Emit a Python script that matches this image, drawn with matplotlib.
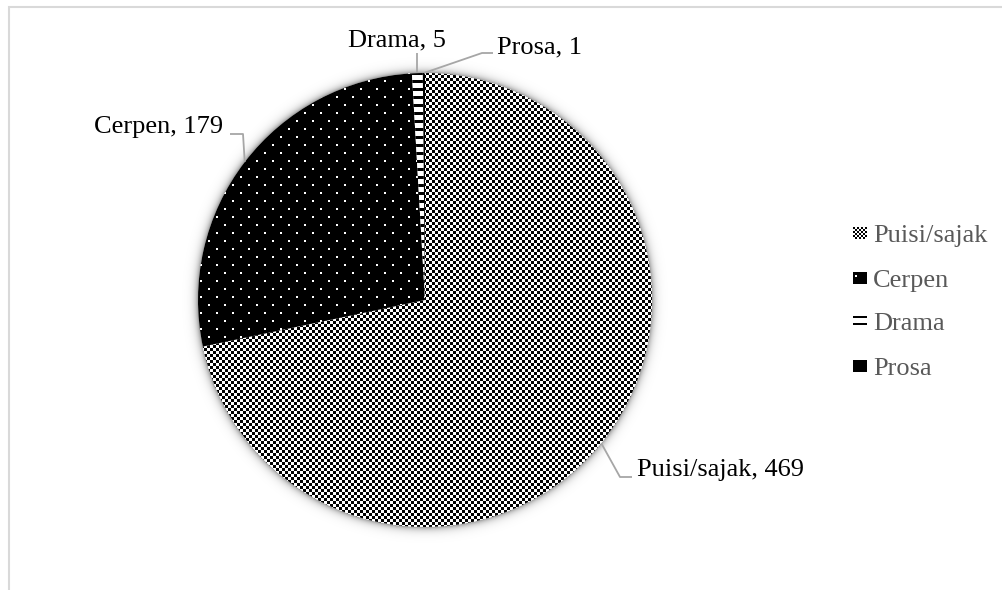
import numpy as np
import matplotlib.pyplot as plt
from matplotlib.patches import Rectangle

labels = ['Puisi/sajak', 'Cerpen', 'Drama', 'Prosa']
values = [469, 179, 5, 1]

W, H = 1003, 590
plt.rcParams['font.family'] = ['Liberation Serif', 'DejaVu Serif']

fig = plt.figure(figsize=(W / 100, H / 100), dpi=100)
ax = fig.add_axes([0, 0, 1, 1])

cx, cy, R = 425, H - 300, 227

# fill patterns, one pixel per data unit
yy, xx = np.mgrid[0:H, 0:W]
checker = ((xx // 3 + yy // 3) % 2).astype(float)
dots = np.zeros((H, W))
dots[((xx % 16 < 2) & (yy % 16 < 2)) | (((xx + 8) % 16 < 2) & ((yy + 8) % 16 < 2))] = 1
stripes = (yy % 8 >= 3).astype(float)
solid = np.zeros((H, W))
textures = [checker, dots, stripes, solid]

# soft shadow round the pie
d = np.hypot(xx + 0.5 - cx, (H - yy - 0.5) - cy)
shadow = np.zeros((H, W, 4))
shadow[..., 3] = 0.4 * np.exp(-np.clip(d - R, 0, None) / 3.5)
ax.imshow(shadow, extent=(0, W, 0, H), interpolation='bilinear', zorder=0)

wedges, _ = ax.pie(values, startangle=90, counterclock=False, center=(cx, cy),
                   radius=R, colors=['white'] * 4, wedgeprops=dict(linewidth=0))
for w, tex in zip(wedges, textures):
    w.set_zorder(1)
    im = ax.imshow(tex, cmap='gray', vmin=0, vmax=1, extent=(0, W, 0, H),
                   interpolation='nearest', zorder=2)
    im.set_clip_path(w)

# data labels with leader lines
bounds = 90 - 360 * np.cumsum([0] + values) / sum(values)
mids = np.radians((bounds[:-1] + bounds[1:]) / 2)
text_pos = [(637, 476), (223, 133), (397, 46), (497, 53)]
text_ha = ['left', 'right', 'center', 'left']
elbows = [[(620, 477), (632, 477)], [(243, 134), (230, 134)], [None], [(482, 53), (493, 53)]]
for lab, v, m, (tx, ty), ha, el in zip(labels, values, mids, text_pos, text_ha, elbows):
    px, py = cx + R * np.cos(m), cy + R * np.sin(m)
    if el[0] is None:
        pts = [(px, py), (px, H - ty - 7)]
    else:
        pts = [(px, py)] + [(ex, H - ey) for ex, ey in el]
    lx, ly = zip(*pts)
    ax.plot(lx, ly, color='#a6a6a6', lw=1.3, zorder=3, solid_capstyle='butt')
    ax.text(tx, H - ty, f'{lab}, {v}', ha=ha, va='baseline', fontsize=19,
            color='black', zorder=4)

# legend
lg_check = ((np.arange(12)[:, None] // 2 + np.arange(14)[None, :] // 2) % 2).astype(float)
lg_dots = np.zeros((12, 14))
lg_dots[3:5, 2:4] = 1
lg_stripes = np.ones((12, 14))
lg_stripes[1:3] = 0
lg_stripes[8:10] = 0
lg_solid = np.zeros((12, 14))
lg_marks = [lg_check, lg_dots, lg_stripes, lg_solid]
lg_base = [242, 287, 330, 375]
for lab, mk, b in zip(labels, lg_marks, lg_base):
    ax.imshow(mk, cmap='gray', vmin=0, vmax=1, interpolation='nearest',
              extent=(853, 867, H - b + 3, H - b + 15), zorder=3)
    ax.text(873, H - b, lab, ha='left', va='baseline', fontsize=19, color='#595959')

# chart border (cropped at right and bottom)
ax.add_patch(Rectangle((9, -20), 1100, H - 7 + 20, fill=False,
                       edgecolor='#d9d9d9', lw=1.5, zorder=5))

ax.set_xlim(0, W)
ax.set_ylim(0, H)
ax.set_aspect('auto')
ax.axis('off')
fig.savefig('out.png', dpi=100)
